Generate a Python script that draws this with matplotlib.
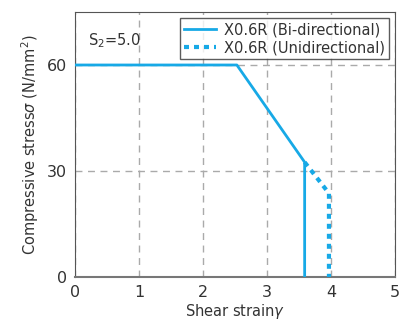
import matplotlib
matplotlib.use("Agg")
import matplotlib.pyplot as plt

bi_x = [0.0, 2.53, 3.59, 3.59]
bi_y = [60.0, 60.0, 32.5, 0.0]
uni_x = [3.59, 3.97, 3.97]
uni_y = [32.5, 23.7, 0.0]
xticks = [0, 1, 2, 3, 4, 5]
yticks = [0, 30, 60]

color = "#17a9e6"
fig = plt.figure(figsize=(4.10, 3.24), dpi=100)
ax = fig.add_axes([0.183, 0.145, 0.780, 0.818])
ax.plot(bi_x, bi_y, color=color, lw=2, label="X0.6R (Bi-directional)", zorder=3)
ax.plot(uni_x, uni_y, color=color, lw=3, ls=(0, (1.2, 1.2)), label="X0.6R (Unidirectional)", zorder=3)
ax.set_xlim(0, 5)
ax.set_ylim(0, 75)
ax.set_xticks(xticks)
ax.set_yticks(yticks)
ax.grid(True, color="#aaaaaa", ls=(0, (5, 4)), lw=1)
ax.tick_params(length=0, labelsize=11.5, colors="#333333", pad=6)
for s in ["top", "right", "left"]:
    ax.spines[s].set_color("#555555")
    ax.spines[s].set_linewidth(0.8)
ax.spines["bottom"].set_color("#777777")
ax.spines["bottom"].set_linewidth(1.5)
ax.set_xlabel("Shear strain$\\gamma$", fontsize=10.5, color="#333333", labelpad=1)
ax.set_ylabel("Compressive stress$\\sigma$ (N/mm$^2$)", fontsize=10.5, color="#333333", labelpad=4)
ax.text(0.2, 67, "S$_{\\mathrm{2}}$=5.0", fontsize=10.5, color="#333333", va="center")
leg = ax.legend(loc="upper right", fontsize=10.5, frameon=True, fancybox=False,
                edgecolor="#333333", handlelength=2.2, borderpad=0.3,
                labelspacing=0.2, borderaxespad=0.4, handletextpad=0.5)
leg.get_frame().set_linewidth(1.0)
for t in leg.get_texts():
    t.set_color("#333333")
fig.savefig("out.png", dpi=100)
